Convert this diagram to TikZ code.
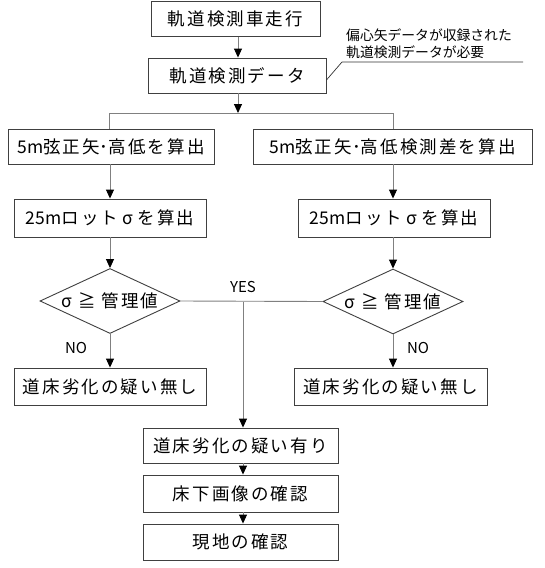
\documentclass[tikz,border=0pt]{standalone}
\usepackage{fontspec}
\setmainfont{Noto Sans CJK JP}
\newfontfamily\boxfont[LetterSpace=12]{Noto Sans CJK JP}
\newfontfamily\smallfont{Noto Sans CJK JP}
\newcommand\latn[1]{{\smallfont #1}}
\newcommand\fw[1]{\hbox to 1.1em{\hss #1\hss}}
\usetikzlibrary{arrows.meta,shapes.geometric}
\begin{document}
\begin{tikzpicture}[x=1pt,y=-1pt,
  stepbox/.style={draw=black!75, line width=0.9pt, rectangle, inner sep=0pt,
    font=\boxfont\fontsize{17.5}{20}\selectfont, minimum height=35pt},
  decision/.style={draw=black!75, line width=0.9pt, diamond, aspect=2.15, inner sep=0pt,
    minimum width=140pt, minimum height=65pt, font=\boxfont\fontsize{17.5}{20}\selectfont},
  conn/.style={draw=black!50, line width=0.9pt},
  arr/.style={conn, -{Triangle[length=9pt,width=8pt,color=black]}},
  lbl/.style={font=\smallfont\fontsize{15}{16}\selectfont, inner sep=0pt},
  note/.style={font=\smallfont\fontsize{13.8}{17}\selectfont, inner sep=0pt, align=left},
  callout/.style={draw=black!80, line width=0.7pt},
]
\fill[white, use as bounding box] (0,0) rectangle (545,568);

\node[stepbox, minimum width=169pt] (n1) at (235.5,19) {軌道検測車走行};
\node[stepbox, minimum width=178pt] (n2) at (237,75.5) {軌道検測データ};
\node[stepbox, minimum width=206pt] (n3) at (111,146.5) {\latn{5m}弦正矢\latn{･}高低を算出};
\node[stepbox, minimum width=279pt] (n4) at (392.5,146.5) {\latn{5m}弦正矢\latn{･}高低検測差を算出};
\node[stepbox, minimum width=192pt, minimum height=38pt] (n5) at (110,218) {\latn{25m}ロット\fw{σ}を算出};
\node[stepbox, minimum width=192pt, minimum height=38pt] (n6) at (394,218) {\latn{25m}ロット\fw{σ}を算出};
\node[decision] (d1) at (110,301) {σ ≧ 管理値};
\node[decision] (d2) at (393,301.5) {σ ≧ 管理値};
\node[stepbox, minimum width=192pt, minimum height=37pt] (n8) at (110,386.5) {道床劣化の疑い無し};
\node[stepbox, minimum width=193pt, minimum height=37pt] (n9) at (390.5,386.5) {道床劣化の疑い無し};
\node[stepbox, minimum width=195pt] (n7) at (240.5,445.5) {道床劣化の疑い有り};
\node[stepbox, minimum width=195pt, minimum height=37pt] (n10) at (240.5,493.5) {床下画像の確認};
\node[stepbox, minimum width=195pt, minimum height=36pt] (n11) at (240.5,542) {現地の確認};

\node[note, anchor=west] (txt) at (346,43.5) {偏心矢データが収録された\\軌道検測データが必要};
\coordinate (c1) at (342,62);
\coordinate (c2) at (523,62);
\draw[callout] ([yshift=-4.5pt]n2.east) -- (c1) -- (c2);

\coordinate (a1) at (238,0);
\draw[arr] (n1.south -| a1) -- (n2.north -| a1);
\coordinate (j) at (238,113);
\coordinate (jl) at (109,113);
\coordinate (jr) at (393,113);
\draw[arr] (n2.south -| j) -- (j);
\draw[conn] (n3.north -| jl) -- (jl) -- (jr) -- (n4.north -| jr);
\draw[arr] (n5.north |- n3.south) -- (n5.north);
\draw[arr] (jr |- n4.south) -- (jr |- n6.north);
\draw[arr] (n5.south) -- (d1.north);
\draw[arr] (d2.north |- n6.south) -- (d2.north);
\draw[arr] (d1.south) -- (n8.north -| d1.south);
\draw[arr] (d2.south) -- (d2.south |- n9.north);
\draw[conn] (d1.east) -- (d2.west);
\coordinate (yv) at (243,301.5);
\draw[arr] (yv) -- (yv |- n7.north);
\draw[arr] (yv |- n7.south) -- (yv |- n10.north);
\draw[arr] (yv |- n10.south) -- (yv |- n11.north);

\node[lbl] (yes) at (243,287) {YES};
\node[lbl] (no1) at (76,348) {NO};
\node[lbl] (no2) at (418,348) {NO};
\end{tikzpicture}
\end{document}
